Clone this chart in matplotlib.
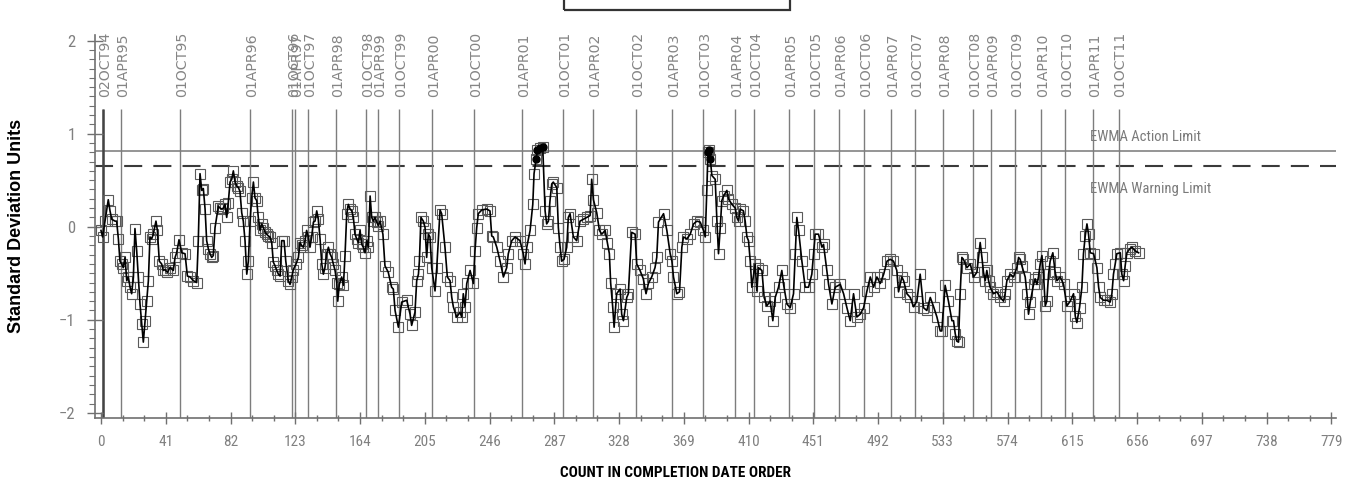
import matplotlib.pyplot as plt
import matplotlib.patches as patches
import matplotlib.transforms as mtransforms
from matplotlib import font_manager
import numpy as np

# ---------- EWMA values (count, std dev units) ---------- #
count_a = [0, 1, 2.5, 4.6, 5.7, 6.8, 8.9, 9.9, 11.0, 12.0, 13.1, 14.1, 15.2, 16.3, 17.3, 18.4,
           19.4, 20.5, 21.5, 22.6, 23.6, 24.7, 25.8, 26.8, 27.9, 28.9, 30.0, 31.0, 32.1, 33.1,
           34.8, 35.7, 36.9, 38.4, 39.5, 40.5, 42.0, 43.7, 45.8, 46.9, 47.9, 49.4, 51.1, 53.2,
           54.7, 56.4, 58.5, 60.6, 61.6, 62.7, 63.8, 64.8, 65.9, 66.9, 68.0, 69.0, 70.1, 71.1,
           72.2, 74.3, 75.4, 76.4, 77.5, 78.5, 79.6, 80.6, 81.7, 82.8, 83.8, 84.9, 85.9, 87.0,
           88.0, 89.1, 90.1, 91.2, 92.3, 93.3, 94.4, 95.4, 96.5, 97.5, 98.6, 99.6, 100.7, 101.8,
           102.8, 103.9, 104.9, 106.0, 107.0, 108.1, 109.1, 110.2, 111.3, 112.3, 113.4, 114.4,
           115.9, 117.0, 118.6, 119.7, 120.8, 121.8, 123.5, 125.0, 126.0, 127.0, 128.1, 129.2,
           130.2, 131.3, 132.3, 133.4, 134.5, 135.5, 136.6, 137.6, 138.7, 139.8, 140.8, 141.8,
           142.9, 144.0, 145.0, 146.1, 147.1, 148.2, 149.3, 149.9, 150.9, 152.4, 153.5, 154.5,
           155.6, 156.6, 157.7, 158.8, 159.8, 160.8, 161.9, 163.0, 164.0, 165.1, 166.1, 167.2,
           168.2, 169.3, 170.4, 171.4, 172.5, 173.5, 174.6, 175.6]
ewma_a = [-0.04, -0.11, 0.06, 0.29, 0.17, 0.08, 0.06, 0.06, -0.13, -0.37, -0.40, -0.44, -0.33,
          -0.58, -0.54, -0.65, -0.72, -0.54, -0.02, -0.26, -0.54, -0.83, -1.05, -1.24, -1.01,
          -0.80, -0.58, -0.11, -0.13, -0.08, 0.06, -0.04, -0.37, -0.40, -0.47, -0.46, -0.49,
          -0.44, -0.47, -0.33, -0.28, -0.14, -0.28, -0.29, -0.53, -0.54, -0.58, -0.60, -0.15,
          0.57, 0.39, 0.41, 0.19, -0.15, -0.24, -0.29, -0.33, -0.31, -0.01, 0.22, 0.20, 0.19,
          0.20, 0.24, 0.10, 0.26, 0.48, 0.51, 0.60, 0.48, 0.44, 0.42, 0.38, 0.15, 0.06, -0.15,
          -0.51, -0.37, 0.06, 0.31, 0.48, 0.31, 0.28, 0.10, -0.04, 0.03, -0.01, -0.06, -0.08,
          -0.10, -0.11, -0.17, -0.38, -0.42, -0.47, -0.51, -0.53, -0.15, -0.15, -0.37, -0.58,
          -0.62, -0.54, -0.46, -0.40, -0.33, -0.17, -0.20, -0.22, -0.15, -0.04, -0.11, -0.22,
          -0.11, 0.05, 0.06, 0.17, 0.08, -0.13, -0.40, -0.51, -0.44, -0.29, -0.22, -0.29, -0.33,
          -0.40, -0.47, -0.60, -0.80, -0.62, -0.54, -0.63, -0.31, 0.14, 0.24, 0.19, 0.17, 0.10,
          -0.08, -0.13, -0.17, -0.04, -0.19, -0.22, -0.28, -0.15, -0.22, 0.33, 0.10, 0.06, 0.10,
          0.05, 0.01]

count_b = [176.7, 178.5, 179.8, 181.9, 184.0, 185.1, 186.2, 188.3, 190.4, 193.6, 195.7, 196.7,
           198.8, 199.9, 201.0, 201.6, 202.6, 204.1, 205.2, 206.2, 207.3, 208.3, 209.4, 211.5,
           212.6, 214.7, 215.7, 217.8, 219.3, 221.0, 222.1, 223.1, 225.2, 227.3, 228.4, 229.4,
           230.5, 231.6, 233.7, 235.8, 236.8, 237.9, 238.9, 241.1, 244.2, 246.3, 247.4, 248.4,
           250.6, 252.7, 254.8, 256.9, 257.9, 260.1, 262.2, 265.3, 267.4, 268.5, 269.6, 271.7,
           273.4, 274.2, 275.5, 276.3, 278.0, 279.7, 281.2, 282.2, 283.3, 284.3, 285.4, 286.4,
           288.6, 289.6, 290.7, 291.7, 293.2, 294.9, 295.9, 297.0, 299.1, 301.2, 303.3, 305.4,
           307.5, 309.7, 310.7, 311.8, 313.9, 315.6, 317.1, 319.2, 320.6, 321.9, 322.7, 324.0,
           324.9, 326.5, 328.7, 329.7, 330.8, 332.9, 333.9, 336.0, 338.2, 339.2, 341.3, 343.4,
           345.1, 346.6, 348.7, 350.8, 351.9]
ewma_b = [0.06, -0.08, -0.42, -0.49, -0.65, -0.67, -0.90, -1.08, -0.81, -0.79, -0.94, -1.06,
          -0.92, -0.58, -0.51, -0.37, 0.10, 0.06, -0.01, -0.33, -0.08, -0.11, -0.44, -0.69,
          -0.44, 0.18, 0.14, -0.22, -0.54, -0.58, -0.76, -0.86, -0.97, -0.92, -0.97, -0.72,
          -0.86, -0.61, -0.47, -0.61, -0.26, -0.01, 0.14, 0.18, 0.19, 0.17, -0.10, -0.11,
          -0.22, -0.37, -0.54, -0.44, -0.29, -0.15, -0.11, -0.15, -0.29, -0.40, -0.22, -0.04,
          0.24, 0.57, 0.73, 0.82, 0.85, 0.86, 0.17, 0.03, 0.06, 0.28, 0.46, 0.48,
          0.42, -0.01, -0.22, -0.37, -0.35, -0.22, 0.10, 0.14, -0.11, -0.15, 0.06, 0.08,
          0.10, 0.12, 0.51, 0.29, 0.15, -0.04, -0.08, -0.04, -0.17, -0.29, -0.60, -0.86,
          -1.08, -0.72, -0.67, -0.94, -1.01, -0.76, -0.72, -0.06, -0.08, -0.40, -0.47, -0.56,
          -0.72, -0.61, -0.54, -0.44, -0.33]

count_c = [353.0, 356.2, 358.3, 360.4, 361.5, 362.5, 364.6, 366.3, 367.8, 368.8, 371.0, 373.1,
           375.2, 377.3, 379.4, 381.5, 382.6, 383.6, 384.3, 385.3, 385.8, 386.8, 388.9, 390.0,
           391.0, 392.1, 393.1, 394.2, 396.3, 397.3, 399.5, 401.6, 402.6, 403.7, 404.7, 406.8,
           407.9, 409.0, 410.0, 411.1, 412.1, 414.2, 415.3, 416.3, 418.5, 419.9, 421.6, 423.7,
           425.4, 426.9, 429.0, 431.1, 432.2, 434.3, 436.4, 438.5, 439.6, 440.6, 441.7, 443.8,
           445.9, 448.0, 450.1, 451.2, 452.2, 454.3, 456.5, 457.5, 459.6, 460.7, 462.8, 464.9,
           468.1, 470.2, 472.3, 474.4, 476.5, 478.6, 480.7, 482.9, 485.0, 487.1, 489.2, 491.3,
           493.4, 495.6, 497.7, 499.7, 501.8, 503.9, 505.0, 507.1, 508.2, 510.3, 512.4, 514.5,
           516.6, 518.7, 520.8, 522.9, 525.1, 527.2, 529.3, 531.4]
ewma_c = [0.05, 0.14, -0.04, -0.29, -0.37, -0.54, -0.72, -0.70, -0.22, -0.11, -0.13, -0.08,
          0.03, 0.06, 0.05, -0.04, -0.11, 0.39, 0.80, 0.82, 0.73, 0.55, 0.51, 0.06,
          -0.29, -0.01, 0.28, 0.33, 0.39, 0.30, 0.24, 0.20, 0.10, 0.06, 0.19, 0.17,
          0.06, -0.11, -0.15, -0.37, -0.65, -0.40, -0.69, -0.44, -0.47, -0.76, -0.85, -0.80,
          -1.01, -0.76, -0.65, -0.47, -0.62, -0.83, -0.87, -0.72, -0.29, 0.10, -0.04, -0.37,
          -0.65, -0.65, -0.51, -0.29, -0.08, -0.08, -0.22, -0.19, -0.47, -0.62, -0.83, -0.65,
          -0.62, -0.72, -0.87, -1.01, -0.72, -0.97, -0.94, -0.87, -0.69, -0.54, -0.65, -0.54,
          -0.61, -0.51, -0.37, -0.35, -0.37, -0.47, -0.70, -0.54, -0.58, -0.72, -0.76, -0.86,
          -0.80, -0.51, -0.87, -0.90, -0.76, -0.86, -0.97, -1.12]

count_d = [532.4, 534.5, 536.6, 538.8, 539.8, 540.9, 541.9, 543.0, 544.0, 545.1, 546.1, 548.3,
           550.4, 552.5, 554.6, 556.7, 557.8, 558.8, 559.9, 560.9, 562.0, 563.0, 565.1, 567.3,
           569.4, 571.5, 572.5, 573.6, 575.7, 577.8, 579.9, 581.0, 582.0, 583.1, 585.2, 586.3,
           587.3, 588.4, 590.5, 591.5, 592.6, 593.6, 594.7, 595.8, 596.8, 597.9, 598.9, 600.0,
           601.0, 602.7, 604.2, 605.3, 607.4, 609.5, 611.6, 613.7, 615.8, 616.9, 617.9, 619.6,
           621.1, 622.1, 623.2, 624.3, 625.3, 626.4, 628.5, 630.6, 631.7, 632.7, 634.8, 636.9,
           639.0, 640.1, 641.1, 642.2, 643.2, 645.4, 646.4, 647.5, 648.5, 649.6, 651.3, 652.8,
           654.9, 657.0]
ewma_d = [-1.12, -0.63, -0.80, -1.01, -1.01, -1.15, -1.23, -1.24, -0.72, -0.33, -0.35, -0.44,
          -0.40, -0.54, -0.49, -0.17, -0.33, -0.49, -0.58, -0.47, -0.58, -0.65, -0.72, -0.70,
          -0.76, -0.80, -0.72, -0.58, -0.51, -0.54, -0.44, -0.33, -0.35, -0.42, -0.54, -0.72,
          -0.94, -0.81, -0.62, -0.56, -0.62, -0.54, -0.40, -0.31, -0.51, -0.85, -0.80, -0.51,
          -0.37, -0.28, -0.49, -0.58, -0.54, -0.62, -0.85, -0.80, -0.72, -0.96, -1.03, -0.87,
          -0.65, -0.29, -0.10, 0.03, -0.08, -0.28, -0.29, -0.44, -0.65, -0.76, -0.79, -0.79,
          -0.81, -0.72, -0.51, -0.40, -0.29, -0.28, -0.51, -0.58, -0.42, -0.28, -0.24, -0.22,
          -0.26, -0.28]

# ---------- date reference lines ---------- #
date_labels = ['02OCT94', '01APR95', '01OCT95', '01APR96', '01OCT96', '01APR97', '01OCT97',
               '01APR98', '01OCT98', '01APR99', '01OCT99', '01APR00', '01OCT00', '01APR01',
               '01OCT01', '01APR02', '01OCT02', '01APR03', '01OCT03', '01APR04', '01OCT04',
               '01APR05', '01OCT05', '01APR06', '01OCT06', '01APR07', '01OCT07', '01APR08',
               '01OCT08', '01APR09', '01OCT09', '01APR10', '01OCT10', '01APR11', '01OCT11']
date_counts = [1.1, 12.5, 50.2, 94.2, 121.2, 123.1, 131.3, 148.8, 167.6, 175.2, 188.9, 209.4,
               236.0, 266.4, 292.4, 311.8, 338.8, 361.6, 381.4, 401.3, 413.7, 435.7, 451.5,
               467.4, 483.0, 500.1, 515.3, 533.4, 552.0, 563.6, 579.0, 595.3, 610.5, 628.0,
               644.3]

action_limit = 0.81
warning_limit = 0.65
x_ticks = np.arange(0, 780, 41)

count = np.array(count_a + count_b + count_c + count_d)
ewma = np.array(ewma_a + ewma_b + ewma_c + ewma_d)

# ---------- fonts ---------- #
have = {f.name for f in font_manager.fontManager.ttflist}
narrow = next((n for n in ['Liberation Sans Narrow', 'DejaVu Sans Condensed', 'Roboto Condensed']
               if n in have), 'DejaVu Sans')
arial = 'Liberation Sans' if 'Liberation Sans' in have else 'DejaVu Sans'
plt.rcParams['lines.scale_dashes'] = False

fig = plt.figure(figsize=(13.59, 4.87), dpi=100)
ax = fig.add_axes([95/1359, 1 - 417.5/487, 1241/1359, 382.5/487])
ax.set_xlim(-3.8, 782)
ax.set_ylim(-2.05, 2.06)

# limits
ax.axhline(action_limit, color='#8c8c8c', lw=1.3, zorder=1)
ax.axhline(warning_limit, color='#3a3a3a', lw=1.5, dashes=(13, 8), zorder=1)

# vertical date lines + rotated labels
ax.vlines(date_counts, -2.05, 1.26, colors='#7d7d7d', lw=1.0, zorder=1)
ax.vlines(date_counts[0], -2.05, 1.26, colors='#444444', lw=1.8, zorder=1)
off = mtransforms.offset_copy(ax.transData, fig=fig, x=2, y=0, units='dots')
for c, lab in zip(date_counts, date_labels):
    ax.text(c, 1.39, lab, rotation=90, ha='center', va='bottom', fontsize=10.2,
            color='#858585', family='DejaVu Sans', transform=off, clip_on=False)

# EWMA series: open squares, black line, filled dots above the warning limit
ax.plot(count, ewma, ls='none', marker='s', ms=6.5, mfc='none', mec='#5a5a5a', mew=0.8, zorder=2)
ax.plot(count, ewma, color='black', lw=1.2, zorder=3)
hi = ewma > warning_limit
ax.plot(count[hi], ewma[hi], ls='none', marker='o', ms=5, color='black', zorder=4)

ax.text(626, 0.96, 'EWMA Action Limit', fontsize=10.5, color='#7a7a7a', family=narrow,
        va='center', ha='left')
ax.text(626, 0.41, 'EWMA Warning Limit', fontsize=10.5, color='#7a7a7a', family=narrow,
        va='center', ha='left')

# ---------- axes styling ---------- #
for s in ['top', 'right']:
    ax.spines[s].set_visible(False)
for s in ['left', 'bottom']:
    ax.spines[s].set_color('#707070')
    ax.spines[s].set_linewidth(1.2)

ax.set_xticks(x_ticks)
ax.set_xticks(np.arange(0, 780, 41/3), minor=True)
ax.set_yticks([-2, -1, 0, 1, 2])
ax.set_yticks(np.arange(-2, 2.01, 0.1), minor=True)
ax.tick_params(axis='x', which='major', direction='inout', length=9, width=1, colors='#707070',
               labelcolor='#808080', labelsize=11, pad=8)
ax.tick_params(axis='x', which='minor', direction='inout', length=5, width=1, colors='#707070')
ax.tick_params(axis='y', which='major', direction='inout', length=12, width=1, colors='#707070',
               labelcolor='#808080', labelsize=12, pad=8)
ax.tick_params(axis='y', which='minor', direction='out', length=4, width=0.8, colors='#707070')
for lbl in ax.get_xticklabels() + ax.get_yticklabels():
    lbl.set_family(narrow)

fig.text(17/1359, 1 - 226/487, 'Standard Deviation Units', rotation=90, ha='center',
         va='center', fontsize=13, fontweight='bold', family=arial)
fig.text(676/1359, 1 - 473/487, 'COUNT IN COMPLETION DATE ORDER', ha='center', va='center',
         fontsize=11, fontweight='bold', family=narrow)

# title box cut off at the top edge
fig.add_artist(patches.Rectangle((564/1359, 1 - 10/487), 226/1359, 30/487,
                                 transform=fig.transFigure, fill=False, ec='#333333', lw=1.6,
                                 clip_on=False))

fig.savefig('out.png', dpi=100)
